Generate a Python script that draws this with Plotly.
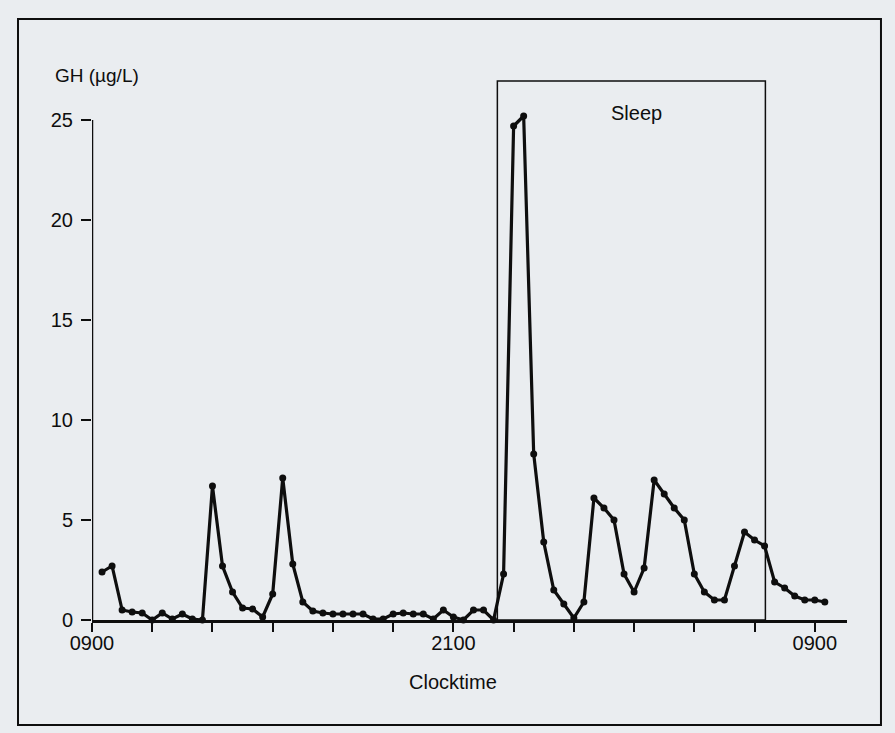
import plotly.graph_objects as go

# Sampling every 20 min from 09:20 (hours after 09:00)
sample_hours = [round((i + 1) / 3, 4) for i in range(73)]
gh_values = [
    2.4, 2.7, 0.5, 0.4, 0.35, 0.0, 0.35, 0.05, 0.3, 0.05,
    0.0, 6.7, 2.7, 1.4, 0.6, 0.55, 0.15, 1.3, 7.1, 2.8,
    0.9, 0.45, 0.35, 0.3, 0.3, 0.3, 0.3, 0.05, 0.05, 0.3,
    0.35, 0.3, 0.3, 0.05, 0.5, 0.15, 0.0, 0.5, 0.5, 0.0,
    2.3, 24.7, 25.2, 8.3, 3.9, 1.5, 0.8, 0.1, 0.9, 6.1,
    5.6, 5.0, 2.3, 1.4, 2.6, 7.0, 6.3, 5.6, 5.0, 2.3,
    1.4, 1.0, 1.0, 2.7, 4.4, 4.0, 3.7, 1.9, 1.6, 1.2,
    1.0, 1.0, 0.9,
]
x_tick_hours = [0, 2, 4, 6, 8, 10, 12, 14, 16, 18, 20, 22, 24]
x_tick_labels = ["0900", "", "", "", "", "", "2100", "", "", "", "", "", "0900"]
y_tick_vals = [0, 5, 10, 15, 20, 25]
sleep_start, sleep_end = 13.46, 22.36
sleep_top = 26.95

FONT = "Liberation Sans, Arial, Helvetica, sans-serif"
INK = "#0e0e0e"
BG = "#eaedf0"

fig = go.Figure()
fig.add_trace(go.Scatter(
    x=sample_hours, y=gh_values, mode="lines+markers",
    line=dict(color=INK, width=3.2),
    marker=dict(color=INK, size=7),
    cliponaxis=False, showlegend=False, hoverinfo="skip",
))

shapes = [
    # y axis line (0..25 only)
    dict(type="line", xref="x", yref="y", x0=0, x1=0, y0=0, y1=25,
         line=dict(color=INK, width=2.5)),
    # Sleep box
    dict(type="rect", xref="x", yref="y", x0=sleep_start, x1=sleep_end,
         y0=0, y1=sleep_top, line=dict(color=INK, width=1.5)),
    # outer frame
    dict(type="rect", xref="paper", yref="paper", x0=-0.098, x1=1.045,
         y0=-0.1875, y1=1.0732, line=dict(color=INK, width=2)),
]

annotations = [
    dict(text="GH (µg/L)", xref="paper", yref="paper", x=-0.0517, y=0.973,
         xanchor="left", yanchor="middle", showarrow=False,
         font=dict(family=FONT, size=19, color=INK)),
    dict(text="Sleep", xref="x", yref="y", x=18.07, y=25.35,
         xanchor="center", yanchor="middle", showarrow=False,
         font=dict(family=FONT, size=20, color=INK)),
    dict(text="Clocktime", xref="x", yref="paper", x=12.0, y=-0.11,
         xanchor="center", yanchor="middle", showarrow=False,
         font=dict(family=FONT, size=20, color=INK)),
]

fig.update_layout(
    width=895, height=733,
    margin=dict(l=92, r=48, t=60, b=113),
    paper_bgcolor=BG, plot_bgcolor=BG,
    shapes=shapes, annotations=annotations,
    xaxis=dict(range=[0, 25.07], tickvals=x_tick_hours, ticktext=x_tick_labels,
               ticks="outside", ticklen=9, tickwidth=2, tickcolor=INK,
               ticklabelstandoff=-6,
               showline=True, linecolor=INK, linewidth=2.5,
               showgrid=False, zeroline=False,
               tickfont=dict(family=FONT, size=20, color=INK)),
    yaxis=dict(range=[0, 28], tickvals=y_tick_vals,
               ticks="outside", ticklen=10, tickwidth=2, tickcolor=INK,
               ticklabelstandoff=4,
               showline=False, showgrid=False, zeroline=False,
               tickfont=dict(family=FONT, size=20, color=INK)),
)

fig.write_html(
    "out.html",
    config={"displayModeBar": False},
    post_script="document.body.style.margin='0';document.body.style.background='#eaedf0';",
)
